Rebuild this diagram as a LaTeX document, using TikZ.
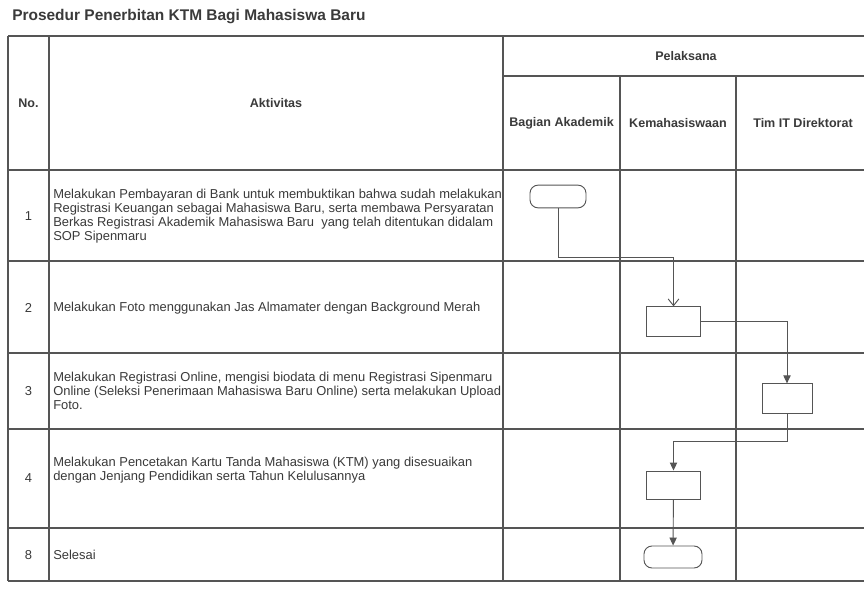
\documentclass[tikz,border=0pt]{standalone}
\usepackage{fontspec}
\setmainfont{Liberation Sans}
\usetikzlibrary{arrows.meta}
\definecolor{sopline}{HTML}{555555}
\definecolor{soptext}{HTML}{3A3A3A}

\begin{document}
\begin{tikzpicture}[x=0.75pt,y=-0.75pt,
  grid/.style={sopline,line width=0.8pt},
  head/.style={text=soptext,font=\bfseries\fontsize{9.4}{11}\selectfont,inner sep=0pt},
  num/.style={text=soptext,font=\fontsize{9.7}{10.5}\selectfont,inner sep=0pt},
  act/.style={text=soptext,font=\fontsize{9.7}{10.5}\selectfont,inner sep=0pt,anchor=west,align=left},
  terminal/.style={draw=sopline,line width=0.7pt,rounded corners=6pt,minimum width=42pt,minimum height=17pt,inner sep=0pt},
  process/.style={draw=sopline,line width=0.7pt,minimum width=41pt,minimum height=22pt,inner sep=0pt},
  flow/.style={sopline,line width=0.7pt,-{Triangle[length=6pt,width=5.5pt]}},
  flowopen/.style={sopline,line width=0.7pt,-{Straight Barb[length=5pt,width=8pt]}}]
  \useasboundingbox[fill=white] (0,0) rectangle (864,592);
  \node[anchor=base west,inner sep=0pt,text=soptext,font=\bfseries\fontsize{11.6}{13}\selectfont] (title) at (12,20.5) {Prosedur Penerbitan KTM Bagi Mahasiswa Baru};
  \draw[grid] (8,36) -- (870,36);
  \draw[grid] (503,76) -- (870,76);
  \foreach \y in {170,261,353,429,528,581}
    \draw[grid] (8,\y) -- (870,\y);
  \foreach \x in {8,49,503}
    \draw[grid] (\x,36) -- (\x,581);
  \foreach \x in {620,736}
    \draw[grid] (\x,76) -- (\x,581);
  \node[head] (hno) at (28.5,103) {No.};
  \node[head] (haktiv) at (276,103) {Aktivitas};
  \node[head] (hpel) at (686,56) {Pelaksana};
  \node[head] (hbag) at (561.5,123) {Bagian Akademik};
  \node[head] (hkem) at (678,123) {Kemahasiswaan};
  \node[head] (htim) at (803,123) {Tim IT Direktorat};
  \node[num] (n1) at (28.5,216) {1};
  \node[num] (n2) at (28.5,308) {2};
  \node[num] (n3) at (28.5,391) {3};
  \node[num] (n4) at (28.5,478) {4};
  \node[num] (n8) at (28.5,555) {8};
  \node[act] (a1) at (53,216) {Melakukan Pembayaran di Bank untuk membuktikan bahwa sudah melakukan\\Registrasi Keuangan sebagai Mahasiswa Baru, serta membawa Persyaratan\\Berkas Registrasi Akademik Mahasiswa Baru\ \ yang telah ditentukan didalam\\SOP Sipenmaru};
  \node[act] (a2) at (53,308) {Melakukan Foto menggunakan Jas Almamater dengan Background Merah};
  \node[act] (a3) at (53,391) {Melakukan Registrasi Online, mengisi biodata di menu Registrasi Sipenmaru\\Online (Seleksi Penerimaan Mahasiswa Baru Online) serta melakukan Upload\\Foto.};
  \node[act] (a4) at (53,470) {Melakukan Pencetakan Kartu Tanda Mahasiswa (KTM) yang disesuaikan\\dengan Jenjang Pendidikan serta Tahun Kelulusannya};
  \node[act] (a8) at (53,555) {Selesai};
  \node[terminal] (start) at (558,196.5) {};
  \node[process] (p2) at (673.5,321.5) {};
  \node[process,minimum width=37.5pt] (p3) at (787,398.5) {};
  \node[process,minimum height=21pt] (p4) at (673.5,485) {};
  \node[terminal,minimum width=43.5pt,minimum height=16.5pt] (stop) at (673,557) {};
  \draw[flowopen] (start) -- ++(0,60.5) -| (p2);
  \draw[flow] (p2) -| (p3);
  \draw[flow] (p3) -- ++(0,42.5) -| (p4);
  \draw[flow] (p4) -- (stop);
\end{tikzpicture}
\end{document}
